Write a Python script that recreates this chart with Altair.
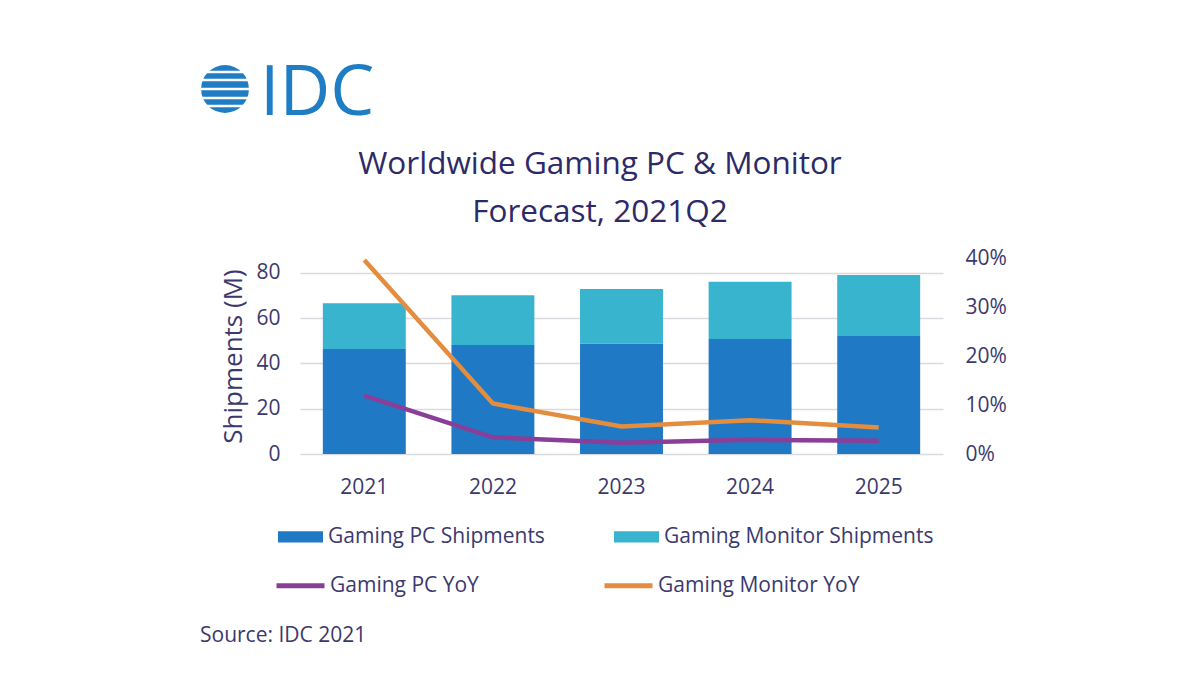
import altair as alt
import pandas as pd

# ---- data ----
years = ["2021", "2022", "2023", "2024", "2025"]
pc_shipments = [46.3, 48.1, 48.8, 50.7, 52.1]          # millions
monitor_shipments = [20.2, 22.0, 24.0, 25.3, 26.9]     # millions
pc_yoy = [0.119, 0.034, 0.023, 0.029, 0.027]
monitor_yoy = [0.396, 0.103, 0.056, 0.069, 0.054]

bar_series = ["Gaming PC Shipments", "Gaming Monitor Shipments"]
line_series = ["Gaming PC YoY", "Gaming Monitor YoY"]
left_ticks = [0, 20, 40, 60, 80]
right_ticks = [0, 0.1, 0.2, 0.3, 0.4]

title_lines = ["Worldwide Gaming PC & Monitor", "Forecast, 2021Q2"]
logo_text = "IDC"
source_text = "Source: IDC 2021"

# ---- styling ----
FONT = "Open Sans"
TXT = "#3b396d"
TITLE_C = "#2c2a68"
BLUE = "#2079c4"
CYAN = "#38b4cf"
PURPLE = "#8a3e98"
ORANGE = "#e48d3e"
LOGO = "#1f7dc3"
FS = 21

bars_df = pd.DataFrame(
    [{"year": y, "series": bar_series[0], "value": v, "ord": 0} for y, v in zip(years, pc_shipments)]
    + [{"year": y, "series": bar_series[1], "value": v, "ord": 1} for y, v in zip(years, monitor_shipments)]
)
lines_df = pd.DataFrame(
    [{"year": y, "series": line_series[0], "yoy": v} for y, v in zip(years, pc_yoy)]
    + [{"year": y, "series": line_series[1], "yoy": v} for y, v in zip(years, monitor_yoy)]
)

x_enc = alt.X(
    "year:N",
    sort=years,
    scale=alt.Scale(paddingInner=0.355, paddingOuter=0.1775),
    axis=alt.Axis(title=None, labelAngle=0, domain=False, ticks=False, labelPadding=22,
                  labelFontSize=FS, labelColor=TXT, labelFont=FONT),
)

bars = alt.Chart(bars_df).mark_bar().encode(
    x=x_enc,
    y=alt.Y(
        "value:Q",
        stack="zero",
        scale=alt.Scale(domain=[0, 86.5], nice=False),
        axis=alt.Axis(
            values=left_ticks, title="Shipments (M)", orient="left", grid=True,
            gridColor="#d9d9e0", gridWidth=1.5, domain=False, ticks=False,
            labelPadding=20, labelFontSize=FS, labelColor=TXT, labelFont=FONT,
            titleFontSize=26, titleFont=FONT, titleColor=TXT, titleFontWeight="normal",
            titlePadding=9,
        ),
    ),
    color=alt.Color(
        "series:N",
        scale=alt.Scale(domain=bar_series, range=[BLUE, CYAN]),
        legend=alt.Legend(
            title=None, orient="none", legendX=-22, legendY=256, direction="horizontal",
            columns=2, columnPadding=69, symbolType="M-1,-0.25H1V0.25H-1Z", symbolSize=2025,
            symbolStrokeWidth=0, symbolOpacity=1, labelFontSize=FS, labelFont=FONT,
            labelColor=TXT, labelLimit=500, labelOffset=5, padding=0,
        ),
    ),
    order=alt.Order("ord:Q"),
)

lines = alt.Chart(lines_df).mark_line(strokeWidth=4.5).encode(
    x=x_enc,
    y=alt.Y(
        "yoy:Q",
        scale=alt.Scale(domain=[0, 0.4], nice=False),
        axis=alt.Axis(
            values=right_ticks, format=".0%", title=None, orient="right", grid=False,
            domain=False, ticks=False, labelPadding=22, labelFontSize=FS,
            labelColor=TXT, labelFont=FONT,
        ),
    ),
    stroke=alt.Stroke(
        "series:N",
        scale=alt.Scale(domain=line_series, range=[PURPLE, ORANGE]),
        legend=alt.Legend(
            title=None, orient="none", legendX=-26, legendY=301, direction="horizontal",
            columns=2, columnPadding=115, symbolType="stroke", symbolSize=2304,
            symbolStrokeWidth=5, labelFontSize=FS, labelFont=FONT,
            labelColor=TXT, labelLimit=500, labelOffset=3, padding=0,
        ),
    ),
)

one = pd.DataFrame({"k": [0]})

title_layers = [
    alt.Chart(one).mark_text(
        text=t, font=FONT, fontSize=31.5, color=TITLE_C, align="center", baseline="middle",
    ).encode(x=alt.value(300), y=alt.value(yy))
    for t, yy in zip(title_lines, [-93, -45])
]

logo_text_layer = alt.Chart(one).mark_text(
    text=logo_text, font=FONT, fontSize=70, color=LOGO, align="left", baseline="alphabetic",
).encode(x=alt.value(-40), y=alt.value(-143))

globe = alt.Chart(one).mark_circle(color=LOGO, opacity=1).encode(
    x=alt.value(-75), y=alt.value(-169), size=alt.value(2290)
)
stripes = [
    alt.Chart(one).mark_rule(color="white", strokeWidth=2.5).encode(
        x=alt.value(-106), x2=alt.value(-44), y=alt.value(v)
    )
    for v in [-186, -178, -169, -160, -152]
]

source = alt.Chart(one).mark_text(
    text=source_text, font=FONT, fontSize=FS, color=TXT, align="left", baseline="middle",
).encode(x=alt.value(-100), y=alt.value(378))

chart = (
    alt.layer(bars, lines, *title_layers, logo_text_layer, globe, *stripes, source)
    .resolve_scale(y="independent")
    .properties(
        width=643,
        height=196,
        autosize=alt.AutoSizeParams(type="none"),
        padding={"left": 292, "top": 250, "right": 249, "bottom": 238},
        background="white",
    )
    .configure_view(stroke=None)
)

chart.save("out.html", embed_options={"renderer": "svg", "actions": False})
